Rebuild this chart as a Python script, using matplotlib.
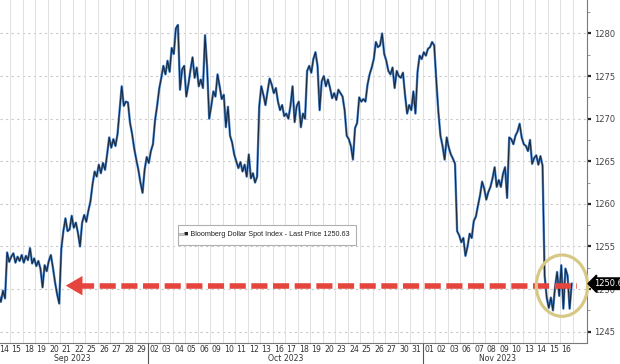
import matplotlib
matplotlib.use('Agg')
import matplotlib.pyplot as plt
import matplotlib.transforms as mtransforms
from matplotlib.patches import Ellipse
import numpy as np

# trading days shown on the axis
days = ['14', '15', '18', '19', '20', '21', '22', '25', '26', '27', '28', '29',
        '02', '03', '04', '05', '06', '09', '10', '11', '12', '13', '16', '17',
        '18', '19', '20', '23', '24', '25', '26', '27', '30', '31',
        '01', '02', '03', '06', '07', '08', '09', '10', '13', '14', '15', '16']
months = ['Sep 2023', 'Oct 2023', 'Nov 2023']
month_start = [0, 12, 34]

# intraday samples of Bloomberg Dollar Spot Index (6 per trading day)
intraday = [
    [1249.3, 1248.5, 1249.8, 1248.9, 1254.3, 1253.2],
    [1253.8, 1254.2, 1253.1, 1253.8, 1253.3, 1254.0],
    [1253.1, 1253.9, 1253.4, 1254.8, 1253.0, 1253.6],
    [1252.7, 1253.3, 1252.4, 1250.2, 1252.8, 1252.1],
    [1253.3, 1254.0, 1252.5, 1250.8, 1249.4, 1248.3],
    [1254.7, 1256.8, 1258.3, 1256.8, 1257.0, 1258.6],
    [1257.2, 1257.8, 1256.6, 1255.0, 1257.8, 1258.7],
    [1257.9, 1259.2, 1260.3, 1262.3, 1263.8, 1263.2],
    [1264.6, 1263.6, 1264.8, 1264.0, 1265.8, 1267.8],
    [1266.6, 1267.6, 1266.8, 1268.2, 1271.0, 1273.8],
    [1271.5, 1272.0, 1271.9, 1269.5, 1268.2, 1266.5],
    [1265.2, 1264.0, 1262.5, 1261.3, 1264.0, 1265.5],
    [1264.8, 1266.2, 1267.0, 1269.8, 1271.5, 1273.5],
    [1274.8, 1276.2, 1275.2, 1276.8, 1275.5, 1278.3],
    [1277.6, 1280.6, 1281.0, 1273.4, 1275.8, 1276.2],
    [1272.6, 1274.0, 1275.7, 1277.2, 1274.8, 1276.0],
    [1273.8, 1274.6, 1273.6, 1279.8, 1276.0, 1270.0],
    [1271.5, 1273.2, 1272.6, 1275.2, 1273.8, 1272.3],
    [1272.8, 1269.0, 1271.4, 1268.0, 1267.2, 1265.8],
    [1265.0, 1264.2, 1264.9, 1263.8, 1264.6, 1263.2],
    [1265.8, 1263.0, 1263.6, 1262.5, 1263.2, 1271.4],
    [1273.8, 1272.8, 1271.6, 1273.2, 1274.7, 1274.0],
    [1273.0, 1273.6, 1272.0, 1271.0, 1271.6, 1270.3],
    [1270.6, 1270.0, 1271.5, 1273.8, 1269.6, 1271.5],
    [1272.0, 1269.0, 1270.6, 1270.0, 1275.6, 1276.2],
    [1275.4, 1277.0, 1277.8, 1276.2, 1271.0, 1274.4],
    [1275.0, 1273.8, 1274.6, 1273.6, 1272.4, 1273.0],
    [1272.2, 1273.4, 1273.0, 1272.6, 1271.0, 1268.0],
    [1267.6, 1266.8, 1265.2, 1268.9, 1269.5, 1272.5],
    [1272.0, 1272.3, 1272.0, 1274.0, 1275.2, 1276.0],
    [1277.0, 1279.0, 1278.4, 1278.6, 1280.0, 1277.6],
    [1276.8, 1275.6, 1275.2, 1276.0, 1273.6, 1275.6],
    [1275.0, 1274.8, 1275.4, 1272.8, 1270.6, 1271.6],
    [1271.0, 1273.2, 1270.6, 1275.5, 1277.4, 1277.0],
    [1277.8, 1277.4, 1278.2, 1278.4, 1279.0, 1278.6],
    [1274.5, 1270.8, 1268.0, 1266.8, 1265.2, 1267.8],
    [1266.6, 1265.8, 1265.3, 1264.7, 1256.8, 1256.3],
    [1255.5, 1256.0, 1253.9, 1255.0, 1256.5, 1256.0],
    [1258.0, 1258.5, 1259.8, 1261.0, 1262.6, 1261.8],
    [1260.5, 1261.4, 1262.0, 1263.0, 1264.3, 1262.0],
    [1262.8, 1262.0, 1263.5, 1264.3, 1260.7, 1267.8],
    [1267.6, 1267.0, 1268.0, 1268.5, 1269.4, 1267.8],
    [1267.0, 1266.8, 1266.2, 1267.5, 1264.7, 1265.4],
    [1265.7, 1264.6, 1265.6, 1264.5, 1251.6, 1249.0],
    [1247.8, 1249.0, 1247.5, 1250.2, 1252.0, 1249.2],
    [1252.8, 1247.7, 1252.4, 1251.6, 1247.7, 1250.63],
]
last_price = 1250.63
arrow_level = 1250.4
yticks = [1245, 1250, 1255, 1260, 1265, 1270, 1275, 1280]

t = []
price = []
for i, day in enumerate(intraday):
    n = len(day)
    for k, v in enumerate(day):
        t.append(i - 0.5 + (k + 0.5) / n)
        price.append(v)

fig = plt.figure(figsize=(6.2, 3.64), dpi=100, facecolor='white')
ax = fig.add_axes([0.0, 21 / 364, 587 / 620, 343 / 364])

ax.set_xlim(-0.32, 46.64)
ax.set_ylim(1243.67, 1283.93)

# grid
for y in yticks:
    ax.axhline(y, color='#c8c8c8', lw=0.8, ls=(0, (2, 3)), zorder=0)
for i in range(len(days) + 1):
    ax.axvline(i - 0.5, color='#e0e0e0', lw=0.7, zorder=0)

ax.plot(t, price, color='#4a86cf', lw=1.7, zorder=2)
ax.plot(t, price, color='#1a2a3e', lw=0.8, zorder=3)

# red dashed arrow
red = '#e5453d'
ax.plot([5.9, 45.85], [arrow_level, arrow_level], color=red, lw=4.0,
        ls=(0, (2.9, 1.0)), solid_capstyle='butt', zorder=4)
ax.annotate('', xy=(4.72, arrow_level), xytext=(6.2, arrow_level),
            arrowprops=dict(arrowstyle='-|>,head_length=0.6,head_width=0.35',
                            color=red, lw=0, mutation_scale=20), zorder=4)

# highlight circle
ax.add_patch(Ellipse((44.64, arrow_level), 4.1, 7.2, fill=False,
                     ec='#d8c886', lw=2.3, zorder=5, clip_on=False))

# legend box
ax.text(0.302, 0.315, '\u2261', transform=ax.transAxes, fontsize=6,
        color='#999999', va='center', ha='left', zorder=7)
ax.text(0.314, 0.315, '\u25a0 Bloomberg Dollar Spot Index - Last Price 1250.63',
        transform=ax.transAxes, fontsize=5.2, family='Liberation Sans',
        color='#222222', va='center', ha='left', zorder=6,
        bbox=dict(boxstyle='square,pad=0.9', fc='white', ec='#b0b0b0', lw=0.8))

# axes styling
for s in ['top', 'left']:
    ax.spines[s].set_visible(False)
ax.spines['right'].set_color('#7a7a7a')
ax.spines['bottom'].set_color('#7a7a7a')

ax.yaxis.tick_right()
ax.set_yticks(yticks)
ax.set_yticklabels([str(y) for y in yticks], fontsize=6, color='#444444')
ax.set_yticks(np.arange(1245, 1285, 2.5), minor=True)
ax.tick_params(axis='y', which='major', length=3, width=1.6, color='#222222', pad=2)
ax.tick_params(axis='y', which='minor', length=2, width=0.6, color='#888888')

ax.set_xticks(range(len(days)))
ax.set_xticklabels(days, fontsize=5.6, color='#333333')
ax.tick_params(axis='x', length=0, pad=1.2)

# month labels and separators
trans = mtransforms.blended_transform_factory(ax.transData, ax.transAxes)
ends = month_start[1:] + [len(days)]
for name, s, e in zip(months, month_start, ends):
    ax.text((s + e - 1) / 2, -0.046, name, transform=trans, fontsize=5.6,
            color='#333333', ha='center', va='center')
for s in month_start[1:]:
    ax.plot([s - 0.5, s - 0.5], [0, -0.065], transform=trans, color='#555555',
            lw=0.8, clip_on=False)

# last price tag
ax.text(1.012, last_price, '1250.63', transform=mtransforms.blended_transform_factory(
    ax.transAxes, ax.transData), fontsize=6, color='white', va='center', ha='left',
    zorder=7, bbox=dict(boxstyle='larrow,pad=0.15', fc='black', ec='black'))

plt.savefig('out.png', dpi=100, facecolor='white')
